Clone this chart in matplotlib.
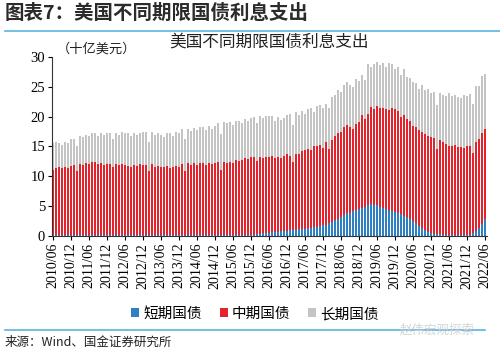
import numpy as np
import matplotlib
matplotlib.use("Agg")
import matplotlib.pyplot as plt
from matplotlib.lines import Line2D

plt.rcParams['font.family'] = ['Liberation Serif', 'Noto Sans CJK SC']
cjk = ['Noto Sans CJK SC', 'DejaVu Sans']

# monthly, 2010/06 .. 2022/06 (十亿美元)
months = ["%d/%02d" % (2010 + (m + 5) // 12, (m + 5) % 12 + 1) for m in range(145)]

short_term = [
    0.1, 0.1, 0.1, 0.1, 0.1, 0.1, 0.1,
    0.1, 0.1, 0.1, 0.1, 0.1, 0.1, 0.1, 0.1, 0.1, 0.1, 0.1, 0.1,
    0.1, 0.1, 0.1, 0.1, 0.1, 0.1, 0.1, 0.1, 0.1, 0.1, 0.1, 0.1,
    0.1, 0.1, 0.1, 0.1, 0.1, 0.1, 0.1, 0.1, 0.1, 0.1, 0.1, 0.1,
    0.1, 0.1, 0.1, 0.1, 0.1, 0.1, 0.1, 0.1, 0.1, 0.1, 0.1, 0.1,
    0.1, 0.1, 0.1, 0.1, 0.1, 0.1, 0.1, 0.1, 0.1, 0.1, 0.1, 0.15,
    0.2, 0.3, 0.35, 0.4, 0.5, 0.55, 0.6, 0.65, 0.7, 0.75, 0.8, 0.85,
    0.9, 0.95, 1.0, 1.1, 1.15, 1.2, 1.3, 1.35, 1.45, 1.55, 1.65, 1.75,
    1.9, 2.1, 2.3, 2.6, 2.9, 3.2, 3.5, 3.8, 3.9, 4.1, 4.3, 4.5,
    4.7, 4.9, 5.1, 5.3, 5.2, 5.1, 4.9, 4.7, 4.5, 4.4, 4.2, 4.0,
    3.8, 3.6, 3.4, 3.2, 2.9, 2.5, 2.1, 1.7, 1.3, 1.0, 0.7, 0.5,
    0.35, 0.3, 0.25, 0.2, 0.15, 0.1, 0.1, 0.08, 0.07, 0.07, 0.08, 0.1,
    0.2, 0.4, 0.8, 1.3, 2.0, 2.8,
]

mid_term = [
    10.9, 11.3, 11.4, 11.2, 11.5, 11.2, 11.7,
    11.8, 10.7, 11.9, 11.8, 12.1, 11.9, 12.3, 12.3, 12.0, 12.1, 11.8, 12.0,
    12.0, 11.4, 12.0, 11.8, 12.0, 11.8, 11.7, 11.5, 11.8, 11.7, 11.9, 11.8,
    11.8, 10.7, 11.9, 11.5, 11.6, 11.5, 11.4, 11.6, 11.3, 11.4, 11.6, 11.5,
    11.9, 10.7, 12.1, 11.8, 12.1, 11.8, 12.1, 12.1, 11.8, 12.2, 11.9, 12.2,
    12.3, 10.9, 12.3, 12.1, 12.3, 12.2, 12.6, 12.5, 12.6, 12.9, 12.8, 13.1,
    13.0, 12.2, 12.9, 12.6, 12.7, 12.7, 12.8, 12.4, 12.6, 12.3, 12.6, 12.8,
    12.5, 11.5, 12.7, 12.7, 13.0, 13.2, 13.2, 13.1, 13.6, 13.6, 13.6, 13.0,
    13.9, 12.5, 13.8, 14.2, 14.3, 14.3, 14.7, 14.8, 14.4, 13.9, 14.4, 14.6,
    15.5, 14.7, 15.3, 16.3, 16.1, 16.7, 16.6, 16.8, 16.7, 16.7, 17.3, 17.3,
    17.2, 16.4, 16.8, 16.4, 16.3, 16.0, 16.1, 16.1, 16.2, 16.1, 16.0, 16.0,
    16.0, 14.3, 15.9, 15.5, 15.2, 15.0, 14.9, 15.1, 14.9, 14.8, 14.7, 14.9,
    14.8, 13.5, 15.0, 15.0, 15.2, 15.2,
]

long_term = [
    4.5, 4.3, 4.1, 3.9, 4.2, 4.2, 4.4,
    4.4, 4.2, 4.7, 4.6, 4.8, 4.8, 4.8, 4.8, 4.7, 5.1, 5.1, 5.2,
    5.2, 4.8, 5.2, 5.1, 5.3, 5.4, 5.4, 5.2, 5.4, 5.2, 5.3, 5.5,
    5.5, 5.0, 5.5, 5.4, 5.6, 5.3, 5.0, 5.6, 5.8, 5.3, 5.8, 5.7,
    6.0, 5.4, 5.8, 5.7, 5.9, 5.8, 6.1, 6.1, 5.8, 6.1, 5.9, 6.2,
    6.5, 6.1, 6.7, 6.7, 6.7, 6.3, 6.6, 6.7, 6.3, 6.6, 6.4, 6.5,
    6.7, 6.4, 6.9, 6.7, 6.9, 6.8, 6.7, 6.3, 6.7, 6.4, 6.3, 6.7,
    7.0, 6.2, 7.0, 6.5, 6.8, 6.1, 6.7, 7.0, 5.8, 6.6, 6.7, 6.7,
    6.4, 6.9, 7.2, 6.8, 7.2, 6.7, 7.1, 7.2, 7.0, 7.0, 7.6, 6.8,
    6.8, 6.6, 8.5, 6.7, 7.6, 7.3, 7.1, 7.5, 7.1, 7.9, 7.3, 6.7,
    7.4, 7.0, 7.8, 7.1, 7.2, 7.3, 7.4, 6.9, 7.8, 7.3, 8.0, 7.4,
    7.8, 7.4, 7.8, 8.0, 8.1, 8.9, 8.5, 8.5, 8.4, 8.3, 8.8, 8.4,
    8.8, 8.2, 9.4, 8.9, 9.6, 9.2,
]

x = np.arange(len(months))
s = np.array(short_term)
m = np.array(mid_term)
l = np.array(long_term)

fig = plt.figure(figsize=(5.0, 3.52), dpi=100)
# 145 months * 3 px each
ax = fig.add_axes([0.104, 0.33, 0.87, 0.508])

w = 2 / 3
xl = x - 0.5
ax.bar(xl, s, w, align='edge', color='#2f80c2', label='短期国债')
ax.bar(xl, m, w, bottom=s, align='edge', color='#e3232c', label='中期国债')
ax.bar(xl, l, w, bottom=s + m, align='edge', color='#c4c4c4', label='长期国债')

ax.set_xlim(-0.5, len(x) - 0.5)
ax.set_ylim(0, 30)
ax.set_yticks(range(0, 31, 5))
ax.set_xticks(x[::6] - 1 / 6)
ax.set_xticklabels(months[::6], rotation=90, fontsize=10)
ax.tick_params(axis='y', labelsize=10.5, length=3, width=0.8, pad=2)
ax.tick_params(axis='x', length=3, width=0.8, pad=2)
for sp in ['top', 'right']:
    ax.spines[sp].set_visible(False)
for sp in ['left', 'bottom']:
    ax.spines[sp].set_color('#333333')
    ax.spines[sp].set_linewidth(0.8)

ax.text(0.5, 1.085, '美国不同期限国债利息支出', transform=ax.transAxes,
        ha='center', va='center', fontsize=12, family=cjk, color='#222222')
ax.text(0.01, 1.045, '（十亿美元）', transform=ax.transAxes,
        ha='left', va='center', fontsize=9.5, family=cjk, color='#222222')

leg = fig.legend(loc='center', bbox_to_anchor=(0.51, 0.108), ncol=3, frameon=False,
                 prop={'family': cjk, 'size': 10.5}, handlelength=0.55, handleheight=0.55,
                 handletextpad=0.3, columnspacing=1.2)

fig.text(0.01, 0.962, '图表7：美国不同期限国债利息支出', fontsize=14, fontweight='bold',
         style='italic', family=cjk, color='#2b2b2b', va='center')
fig.add_artist(Line2D([0.01, 1.0], [0.912, 0.912], color='#5ab4e0', lw=1.2))
fig.add_artist(Line2D([0.01, 0.97], [0.062, 0.062], color='#5ab4e0', lw=1.2))
fig.text(0.01, 0.028, '来源：Wind、国金证券研究所', fontsize=9, family=cjk,
         color='#222222', va='center')
fig.text(0.80, 0.062, '赵伟宏观探索', fontsize=9, family=cjk, color='#d0d0d0',
         va='center', alpha=0.9)

fig.savefig('out.png', dpi=100)
